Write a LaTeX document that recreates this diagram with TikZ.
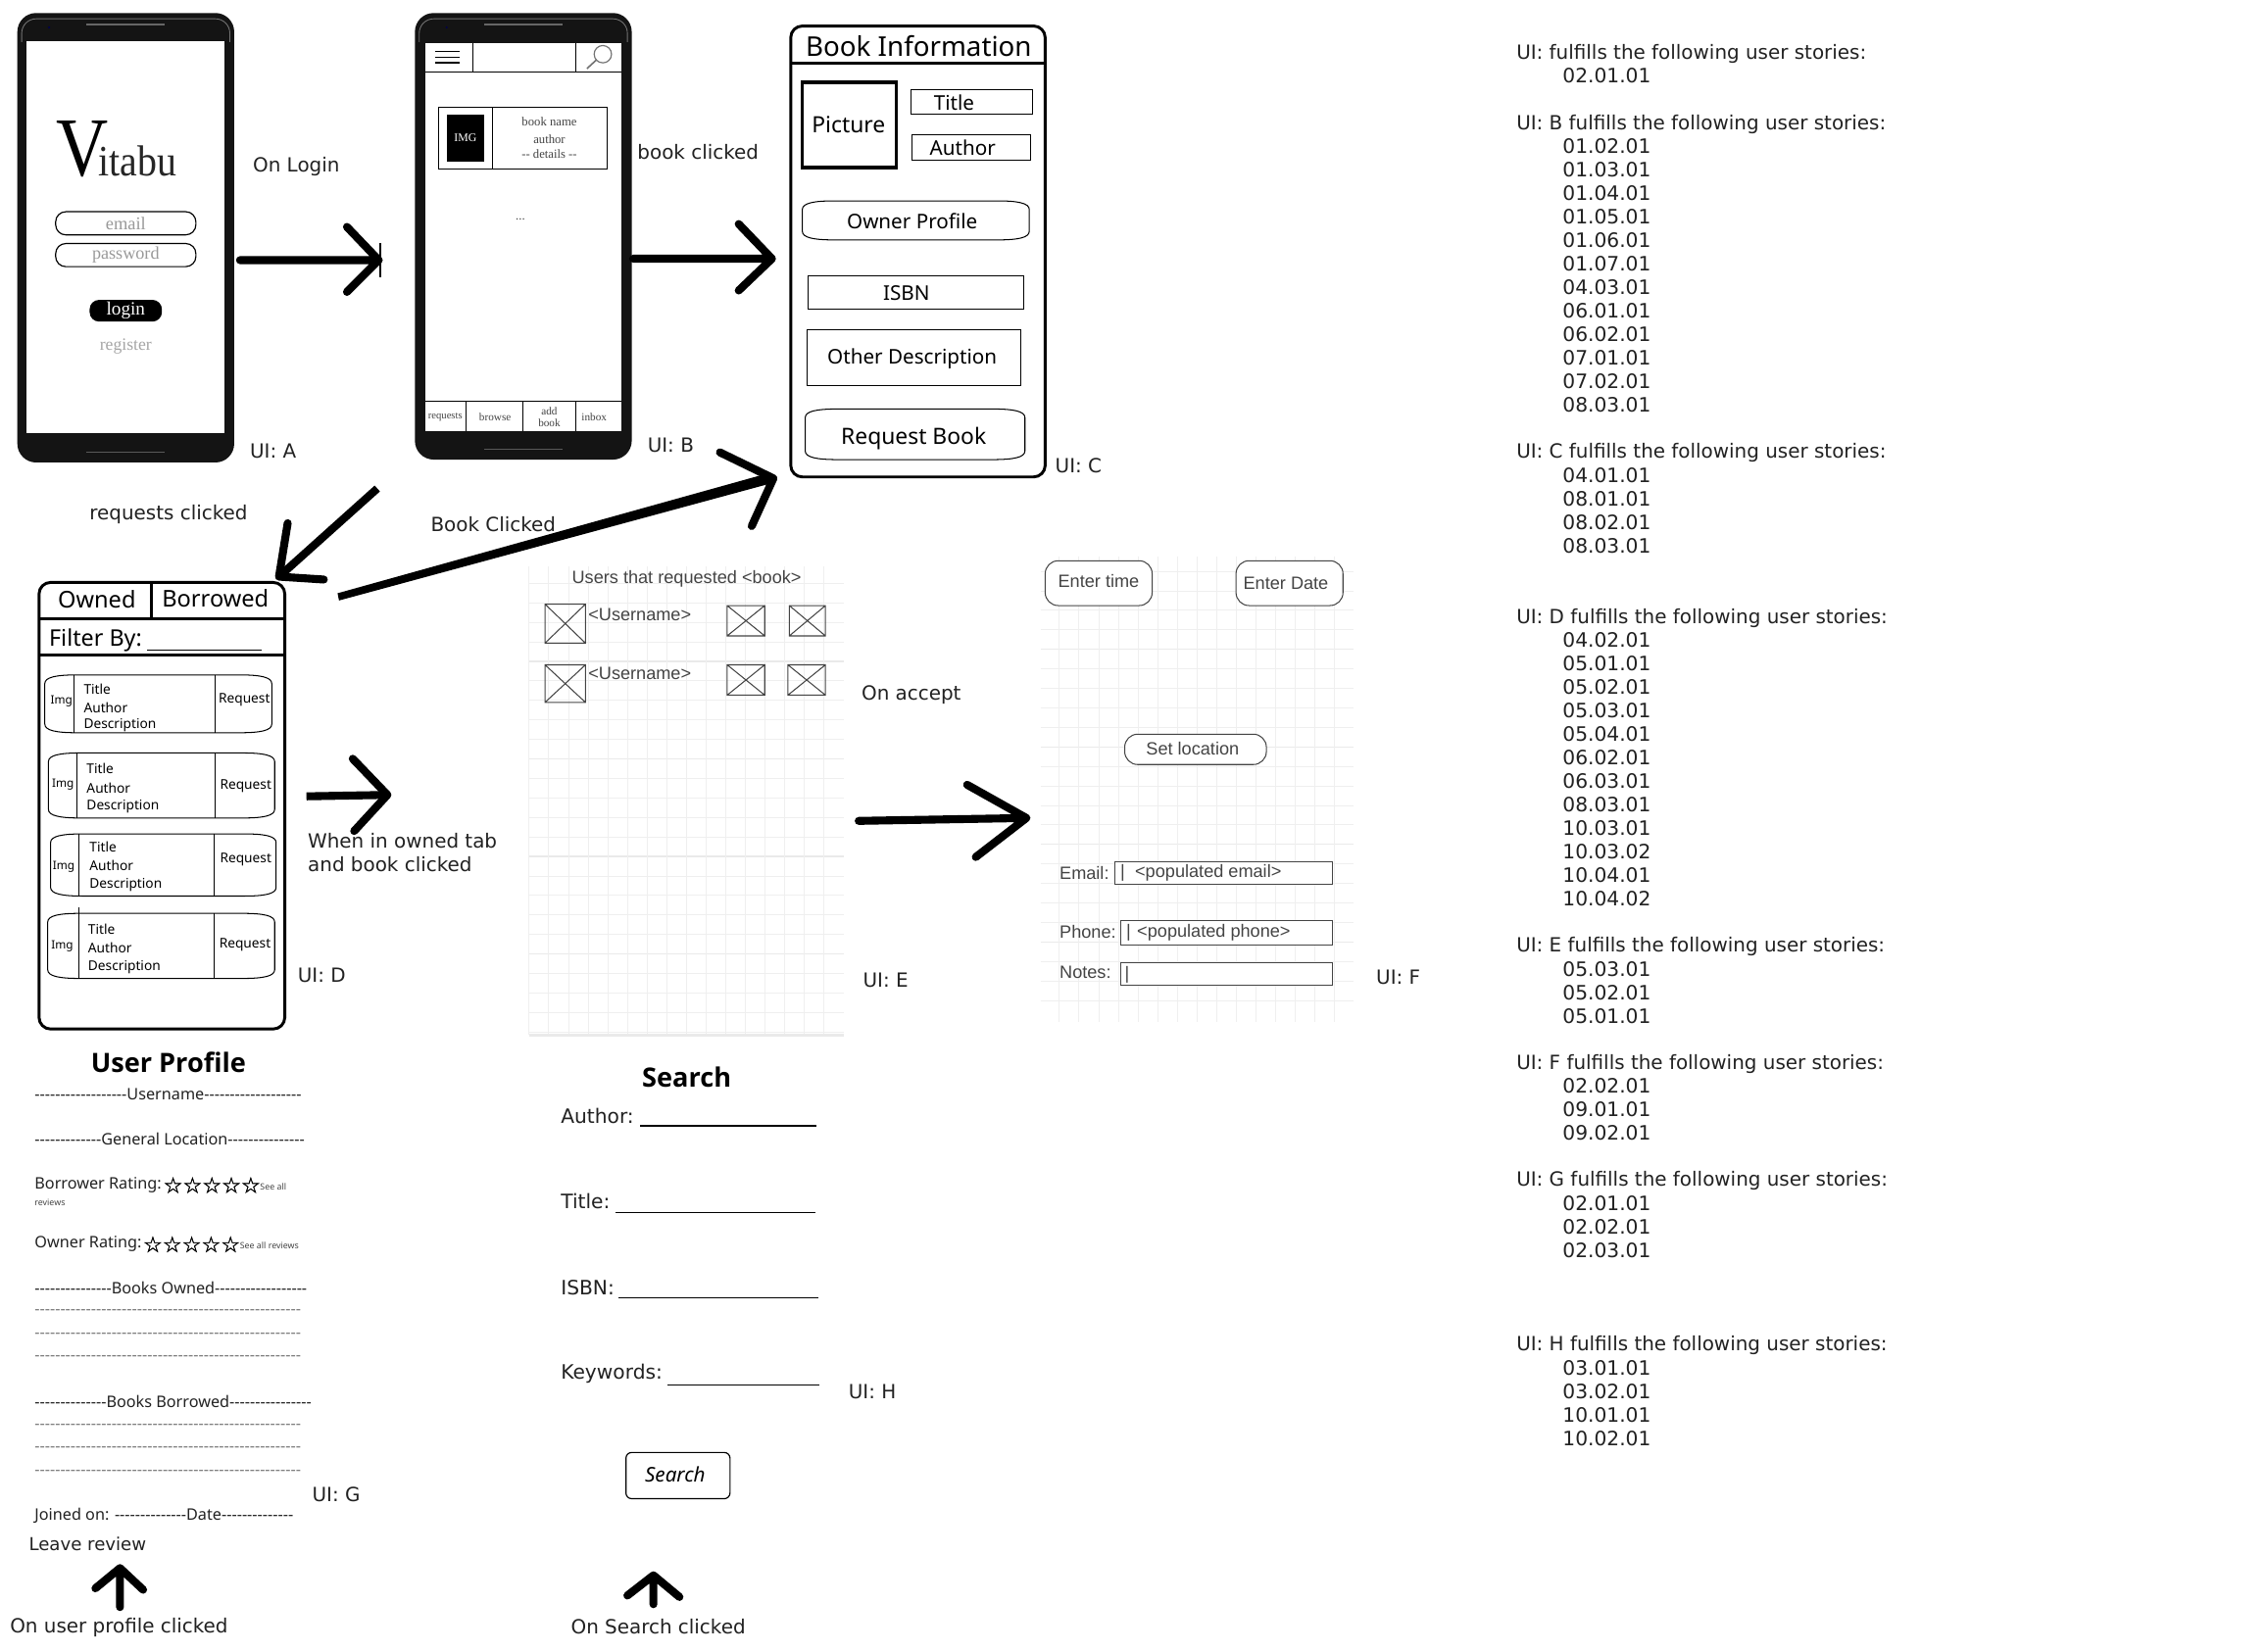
\documentclass[tikz,border=0pt]{standalone}
\usepackage{fontspec}
\newfontfamily\fdj{DejaVu Sans}
\newfontfamily\fns{Noto Sans}
\newfontfamily\fos{Open Sans}
\newfontfamily\flib{Liberation Sans}
\newfontfamily\fser{Liberation Serif}
\newfontfamily\fstar[FakeBold=1.2]{DejaVu Sans}
\newcommand\fz[1]{\fontsize{#1}{#1}\selectfont}
\definecolor{ink}{HTML}{222222}
\definecolor{gridc}{HTML}{EFEFEF}
\definecolor{gridd}{HTML}{EAEAEA}
\definecolor{fog}{HTML}{444444}
\tikzset{
 every node/.style={inner sep=0pt,outer sep=0pt},
 lab/.style={anchor=west,text=ink,font=\fdj\fz{13.5}},
 ui/.style={anchor=west,text=ink,font=\fdj\fz{13.5}},
 rhead/.style={anchor=west,text=ink,font=\fdj\fz{13.5}},
 ritem/.style={anchor=west,text=ink,font=\fdj\fz{13.7}},
 tah/.style={text=black,font=\fns\fz{9.3}},
 tahl/.style={tah,anchor=west},
 fat/.style={line width=5.5pt,black,line cap=round,line join=round},
 fatb/.style={line width=5.5pt,black,line cap=butt},
 outerbox/.style={draw=black,line width=2pt,rounded corners=8pt},
 thinbox/.style={draw=black,line width=.7pt},
 prof/.style={anchor=west,text=ink,font=\fns\fz{11}},
 dashline/.style={anchor=west,text=fog!70,font=\fns\fz{11}},
 srch/.style={anchor=west,text=ink,font=\fdj\fz{13.7}},
 wire/.style={anchor=center,text=fog,font=\flib\fz{12.3}},
 wirel/.style={anchor=west,text=fog,font=\flib\fz{12.3}},
 serif/.style={anchor=center,font=\fser\fz{8.6},text=fog},
 wbox/.style={draw=fog,line width=.7pt,fill=white},
 stars/.style={anchor=west,font=\fstar\fz{15},text=black},
 under/.style={draw=black,line width=.7pt},
}
\newcommand\barrel[5][]{\draw[black,line width=.7pt,#1]
 ({#2+22},#3) -- ({#4-22},#3) .. controls ({#4-8},#3) and (#4,{#3+1.5}) .. (#4,{#3+6})
 -- (#4,{#5-6}) .. controls (#4,{#5-1.5}) and ({#4-8},#5) .. ({#4-22},#5)
 -- ({#2+22},#5) .. controls ({#2+8},#5) and (#2,{#5-1.5}) .. (#2,{#5-6})
 -- (#2,{#3+6}) .. controls (#2,{#3+1.5}) and ({#2+8},#3) .. ({#2+22},#3) -- cycle;}
\newcommand\crossbox[4]{\draw[draw=fog,line width=.7pt] (#1,#2) rectangle (#3,#4) (#1,#2) -- (#3,#4) (#1,#4) -- (#3,#2);}
\newcommand\phone[4]{% x1 y1 x2 y2
 \fill[black!92,rounded corners=13pt] (#1,#2) rectangle (#3,#4);
 \draw[black!55,line width=.6pt,rounded corners=10pt] ({#1+3},{#2+20}) -- ({#1+3},{#2+4}) -- ({#3-3},{#2+4}) -- ({#3-3},{#2+20});
 \fill[black!60] ({(#1+#3)/2-27},{#2+7}) rectangle ({(#1+#3)/2+27},{#2+8.6});
 \fill[black!70!blue] ({#1+22},{#2+10}) circle (.8);
 \draw[black!65,line width=.5pt] ({(#1+#3)/2-27},{#4-7}) -- ({(#1+#3)/2+27},{#4-7});
}
\begin{document}
\begin{tikzpicture}[x=1pt,y=-1pt]
\useasboundingbox (0,0) rectangle (1567.5,1143);
\fill[white] (0,0) rectangle (1567.5,1143);

%%% Phone A
\phone{12}{9}{162}{320}
\fill[white] (18,28.5) rectangle (155,300);
\node[anchor=base west,font=\fser,text=black] (vitabu) at (39,122) {{\fz{58}\scalebox{.86}[1]{V}}\kern-7pt{\fz{30}\color{black!85}\scalebox{.9}[1]{itabu}}};
\node[draw=black,line width=.8pt,rounded corners=7pt,minimum width=97pt,minimum height=16pt,font=\fser\fz{12.5},text=black!40] (email) at (87,154.5) {email};
\node[draw=black,line width=.8pt,rounded corners=7pt,minimum width=97pt,minimum height=16pt,font=\fser\fz{12.3},text=black!40] (password) at (87,176.5) {password};
\node[fill=black,rounded corners=6.5pt,minimum width=50pt,minimum height=15pt,font=\fser\fz{13},text=white] (login) at (87,215) {login};
\node[font=\fser\fz{12},text=black!35] (register) at (87,239.5) {register};

%%% Phone B
\phone{287}{9}{437}{318}
\fill[white] (294,29.5) rectangle (430,298);
\draw[black,line width=.8pt] (294,50) -- (430,50) (294,277.5) -- (430,277.5);
\draw[black,line width=.7pt] (327,30) -- (327,50) (398,30) -- (398,50);
\draw[black,line width=.9pt] (301,35.5) -- (318,35.5) (301,39.5) -- (318,39.5) (301,43.5) -- (318,43.5);
\draw[black!55,line width=.8pt] (417,37.5) circle (6);
\draw[black!55,line width=1.1pt] (412.5,41.5) -- (406,47.5);
\draw[black,line width=.8pt] (303.5,74.5) rectangle (420,117) (340.5,74.5) -- (340.5,117);
\node[fill=black,minimum width=26pt,minimum height=33pt,font=\fser\fz{8},text=white] (img) at (322,95.5) {IMG};
\node[serif] (bname) at (380,84) {book name};
\node[serif] (bauthor) at (380,96.5) {author};
\node[serif] (bdet) at (380,106.5) {-- details --};
\node[serif] (bdots) at (360,152) {...};
\draw[black,line width=.7pt] (322.5,277.5) -- (322.5,298) (362,277.5) -- (362,298) (398.5,277.5) -- (398.5,298);
\node[serif,font=\fser\fz{7.2}] (tReq) at (308,288.5) {requests};
\node[serif,font=\fser\fz{7.6}] (tBrowse) at (342.5,288.5) {browse};
\node[serif,font=\fser\fz{7.6},align=center] (tAdd) at (380,288.5) {add\\[1pt]book};
\node[serif,font=\fser\fz{7.6}] (tInbox) at (411,288.5) {inbox};

%%% Labels top
\node[lab] (lLogin) at (175,115) {On Login};
\node[lab] (lBook) at (441,105) {book clicked};
\node[ui] (uiA) at (173,312) {UI: A};
\node[ui] (uiB) at (448,308) {UI: B};
\node[lab] (lReq) at (62,356) {requests clicked};
\node[lab] (lBC) at (298,363) {Book Clicked};

%%% Book information
\draw[outerbox] (547,18) rectangle (723,330);
\draw[black,line width=2pt] (547,44) -- (723,44);
\node[font=\fns\fz{18.8}] (cTitle) at (635.5,32) {Book Information};
\draw[black,line width=2.4pt] (555,57) rectangle (620,116);
\node[font=\fns\fz{15.5}] (cPic) at (587,86) {Picture};
\node[thinbox,minimum width=84pt,minimum height=17pt] (cT) at (672,70.5) {};
\node[font=\fns\fz{14}] (cTt) at (660,71) {Title};
\node[thinbox,minimum width=82pt,minimum height=18pt] (cA) at (672,102) {};
\node[font=\fns\fz{14}] (cAt) at (666,102) {Author};
\barrel{555}{139}{712}{166}
\node[font=\fns\fz{14}] (cOwner) at (631,153) {Owner Profile};
\node[thinbox,minimum width=149pt,minimum height=23pt] (cI) at (633.5,202.5) {};
\node[font=\fns\fz{14}] (cIt) at (627,203) {ISBN};
\node[thinbox,minimum width=148pt,minimum height=39pt] (cD) at (632,247.5) {};
\node[font=\fns\fz{14}] (cDt) at (631,248.5) {Other Description};
\barrel{557}{283}{709}{318}
\node[font=\fns\fz{15.5}] (cR) at (632,303.5) {Request Book};
\node[ui] (uiC) at (730,322) {UI: C};

%%% UI D
\draw[outerbox] (27,403) rectangle (197,712);
\draw[black,line width=2pt] (27,428) -- (197,428) (27,453) -- (197,453) (105,403) -- (105,428);
\node[font=\fns\fz{16}] (dOwned) at (67,415) {Owned};
\node[font=\fns\fz{16}] (dBorrowed) at (149,414) {Borrowed};
\node[anchor=west,font=\fns\fz{15.8}] (dFilter) at (34,443) {Filter By:};
\draw[under] (102,450) -- (181,450);
\barrel{31}{467}{188}{507}
\draw[black,line width=.7pt] (51.5,467) -- (51.5,507) (149,467) -- (149,507);
\node[tahl] (d1t) at (58,477) {Title};
\node[tahl] (d1a) at (58,489.5) {Author};
\node[tahl] (d1d) at (58,502) {Description};
\node[tah,font=\fns\fz{8}] (d1i) at (42.5,485) {Img};
\node[tah] (d1r) at (169,484) {Request};
\barrel{33.5}{521}{190}{566}
\draw[black,line width=.7pt] (53,521) -- (53,566) (149,521) -- (149,566);
\node[tahl] (d2t) at (60,532) {Title};
\node[tahl] (d2a) at (60,545) {Author};
\node[tahl] (d2d) at (60,558) {Description};
\node[tah,font=\fns\fz{8}] (d2i) at (43.5,543) {Img};
\node[tah] (d2r) at (170,544) {Request};
\barrel{35}{577}{191}{620}
\draw[black,line width=.7pt] (54.5,577) -- (54.5,620) (148,577) -- (148,620);
\node[tahl] (d3t) at (62,586) {Title};
\node[tahl] (d3a) at (62,599) {Author};
\node[tahl] (d3d) at (62,612) {Description};
\node[tah,font=\fns\fz{8}] (d3i) at (44,600) {Img};
\node[tah] (d3r) at (170,595) {Request};
\barrel{33}{632}{190}{677}
\draw[black,line width=.7pt] (54.5,628) -- (54.5,677) (148,632) -- (148,677);
\node[tahl] (d4t) at (61,643) {Title};
\node[tahl] (d4a) at (61,656) {Author};
\node[tahl] (d4d) at (61,669) {Description};
\node[tah,font=\fns\fz{8}] (d4i) at (43,655) {Img};
\node[tah] (d4r) at (169.5,654) {Request};
\node[lab,align=left] (lOwned) at (213,590) {When in owned tab\\[2.5pt]and book clicked};
\node[ui] (uiD) at (206,675) {UI: D};

%%% UI E grid
\foreach \i in {0,...,23}{
  \pgfmathtruncatemacro\m{mod(\i,5)}
  \ifnum\m=4 \draw[gridd,line width=.8pt] (366,{402.6+13.5*\i+1}) -- (584,{402.6+13.5*\i+1});
  \else \draw[gridc,line width=.6pt] (366,{402.6+13.5*\i+1}) -- (584,{402.6+13.5*\i+1});\fi}
\foreach \i in {0,...,15}{
  \draw[gridc,line width=.6pt] ({366+13.6*\i},392) -- ({366+13.6*\i},716);}
\draw[gridd,line width=2pt] (366,716.5) -- (584,716.5);
\node[wire] (eTitle) at (475,400.5) {Users that requested <book>};
\crossbox{377}{418}{405}{445}
\crossbox{503}{419}{529}{440}
\crossbox{546}{419}{571}{440}
\crossbox{377}{460}{405}{486}
\crossbox{503}{460}{529}{481}
\crossbox{545}{460}{571}{481}
\node[wirel] (eU1) at (407,425.5) {<Username>};
\node[wirel] (eU2) at (407,466) {<Username>};
\node[lab] (lAccept) at (596,481) {On accept};
\node[ui] (uiE) at (597,678) {UI: E};

%%% UI F grid
\foreach \i in {0,...,22}{
  \pgfmathtruncatemacro\m{mod(\i,5)}
  \ifnum\m=4 \draw[gridd,line width=.8pt] (720,{394.3+13.5*\i+1}) -- (936,{394.3+13.5*\i+1});
  \else \draw[gridc,line width=.6pt] (720,{394.3+13.5*\i+1}) -- (936,{394.3+13.5*\i+1});\fi}
\foreach \i in {0,...,14}{
  \draw[gridc,line width=.6pt] ({732.8+13.6*\i},385) -- ({732.8+13.6*\i},707);}
\node[draw=fog,line width=.7pt,fill=white,rounded corners=9pt,minimum width=74pt,minimum height=31pt] (fT) at (760,403.5) {};
\node[wire] (fTt) at (760,402) {Enter time};
\node[draw=fog,line width=.7pt,fill=white,rounded corners=9pt,minimum width=74pt,minimum height=31pt] (fD) at (892,403.5) {};
\node[wire] (fDt) at (889.5,403.5) {Enter Date};
\node[draw=fog,line width=.7pt,fill=white,rounded corners=9pt,minimum width=98pt,minimum height=21pt] (fL) at (827,518.5) {};
\node[wire] (fLt) at (825,518) {Set location};
\node[wirel] (fEm) at (733,604) {Email:};
\node[wbox,minimum width=151pt,minimum height=16pt] (fEb) at (846.5,604) {};
\node[wirel] (fEv) at (775,604) {|\hspace{7pt}<populated email>};
\node[wirel] (fPh) at (733,645) {Phone:};
\node[wbox,minimum width=147pt,minimum height=17pt] (fPb) at (848.5,645.5) {};
\node[wirel] (fPv) at (779,645) {|\hspace{1pt} <populated phone>};
\node[wirel] (fNo) at (733,673) {Notes:};
\node[wbox,minimum width=147pt,minimum height=16pt] (fNb) at (848.5,674) {};
\node[wirel] (fNv) at (778,674.5) {|};
\node[ui] (uiF) at (952,676) {UI: F};

%%% UI G
\node[font=\fos\bfseries\fz{18.4}] (gTitle) at (116.5,735) {User Profile};
\node[prof] (g1) at (24,757) {------------------Username-------------------};
\node[prof] (g2) at (24,788) {-------------General Location---------------};
\node[prof] (g3) at (24,820) {Borrower Rating:};
\node[stars] (g3s) at (113,820) {☆☆☆☆☆};
\node[anchor=west,font=\fns\fz{6},text=fog] (g3a) at (180,821) {See all};
\node[anchor=west,font=\fns\fz{6},text=fog] (g3b) at (24,832) {reviews};
\node[prof] (g4) at (24,861) {Owner Rating:};
\node[stars] (g4s) at (99,861) {☆☆☆☆☆};
\node[anchor=west,font=\fns\fz{6},text=fog] (g4a) at (166,862) {See all reviews};
\node[prof] (g5) at (24,891) {---------------Books Owned------------------};
\node[dashline] (g5a) at (24,908) {----------------------------------------------------};
\node[dashline] (g5b) at (24,924) {----------------------------------------------------};
\node[dashline] (g5c) at (24,940) {----------------------------------------------------};
\node[prof] (g6) at (24,970) {--------------Books Borrowed----------------};
\node[dashline] (g6a) at (24,987) {----------------------------------------------------};
\node[dashline] (g6b) at (24,1003) {----------------------------------------------------};
\node[dashline] (g6c) at (24,1019) {----------------------------------------------------};
\node[prof] (g7) at (24,1049) {Joined on: --------------Date--------------};
\node[ui] (uiG) at (216,1034) {UI: G};
\node[lab,font=\fdj\fz{12.3}] (lLeave) at (20,1068) {Leave review};
\node[lab] (lProfile) at (7,1126) {On user profile clicked};

%%% UI H
\node[font=\fos\bfseries\fz{18.4}] (hTitle) at (475,745) {Search};
\node[srch] (hA) at (388,772) {Author:};
\draw[under] (443,779) -- (565,779);
\node[srch] (hT) at (388,831) {Title:};
\draw[under] (426,839) -- (564,839);
\node[srch] (hI) at (388,891) {ISBN:};
\draw[under] (428,898) -- (566,898);
\node[srch] (hK) at (388,950.5) {Keywords:};
\draw[under] (462,958) -- (567,958);
\node[draw=black,line width=.8pt,rounded corners=4pt,minimum width=72pt,minimum height=32pt] (hB) at (469,1021) {};
\node[font=\fns\itshape\fz{14}] (hBt) at (467,1020) {Search};
\node[ui] (uiH) at (587,963) {UI: H};
\node[lab] (lSearch) at (395,1125.5) {On Search clicked};

%%% Arrows
\coordinate (a1s) at (166,180); \coordinate (a1e) at (262,180);
\coordinate (a1u) at (240,157); \coordinate (a1d) at (240,202);
\draw[fat] (a1s) -- (a1e) (a1u) -- (a1e) -- (a1d);
\draw[black,line width=.8pt] (263,168) -- (263,192);
\coordinate (a2s) at (438,179); \coordinate (a2e) at (534,179);
\coordinate (a2u) at (511,155); \coordinate (a2d) at (511,201);
\draw[fat] (a2s) -- (a2e) (a2u) -- (a2e) -- (a2d);
\coordinate (a3s) at (261,338); \coordinate (a3e) at (193,399);
\coordinate (a3u) at (199,362); \coordinate (a3d) at (224,401);
\draw[fatb] (a3s) -- (a3e);
\draw[fat] (a3u) -- (a3e) -- (a3d);
\coordinate (a4s) at (234,413); \coordinate (a4e) at (535,331);
\coordinate (a4u) at (498,313); \coordinate (a4d) at (520,364);
\fill[black] (233.5,410.5) -- (533,327) -- (535,334) -- (234.5,415.5) -- cycle;
\draw[fat] (a4u) -- (a4e) -- (a4d);
\coordinate (a5s) at (212,551); \coordinate (a5e) at (268,550);
\coordinate (a5u) at (244,525); \coordinate (a5d) at (245,575);
\draw[fatb] (a5s) -- (a5e);
\draw[fat] (a5u) -- (a5e) -- (a5d);
\coordinate (a6s) at (594,568); \coordinate (a6e) at (710,566);
\coordinate (a6u) at (669,543); \coordinate (a6d) at (675,593);
\draw[fat] (a6s) -- (a6e) (a6u) -- (a6e) -- (a6d);
\coordinate (a7s) at (83,1112); \coordinate (a7e) at (83,1085);
\coordinate (a7l) at (66,1099); \coordinate (a7r) at (99,1100);
\draw[fat] (a7s) -- (a7e) (a7l) -- (a7e) -- (a7r);
\coordinate (a8s) at (452,1110); \coordinate (a8e) at (452,1090);
\coordinate (a8l) at (434,1104); \coordinate (a8r) at (470,1105);
\draw[fat] (a8s) -- (a8e) (a8l) -- (a8e) -- (a8r);

%%% Right column
\node[rhead] (rA) at (1049,37) {UI: fulfills the following user stories:};
\node[ritem] (rA1) at (1081,52) {02.01.01};
\node[rhead] (rB) at (1049,86) {UI: B fulfills the following user stories:};
\foreach \n/\s [count=\k from 0] in {b1/01.02.01,b2/01.03.01,b3/01.04.01,b4/01.05.01,b5/01.06.01,b6/01.07.01,b7/04.03.01,b8/06.01.01,b9/06.02.01,b10/07.01.01,b11/07.02.01,b12/08.03.01}
  \node[ritem] (r\n) at (1081,{101+16.27*\k}) {\s};
\node[rhead] (rC) at (1049,313) {UI: C fulfills the following user stories:};
\foreach \n/\s [count=\k from 0] in {c1/04.01.01,c2/08.01.01,c3/08.02.01,c4/08.03.01}
  \node[ritem] (r\n) at (1081,{329+16.27*\k}) {\s};
\node[rhead] (rD) at (1049,427.5) {UI: D fulfills the following user stories:};
\foreach \n/\s [count=\k from 0] in {d1/04.02.01,d2/05.01.01,d3/05.02.01,d4/05.03.01,d5/05.04.01,d6/06.02.01,d7/06.03.01,d8/08.03.01,d9/10.03.01,d10/10.03.02,d11/10.04.01,d12/10.04.02}
  \node[ritem] (r\n) at (1081,{443+16.27*\k}) {\s};
\node[rhead] (rE) at (1049,655) {UI: E fulfills the following user stories:};
\foreach \n/\s [count=\k from 0] in {e1/05.03.01,e2/05.02.01,e3/05.01.01}
  \node[ritem] (r\n) at (1081,{670.5+16.27*\k}) {\s};
\node[rhead] (rF) at (1049,736) {UI: F fulfills the following user stories:};
\foreach \n/\s [count=\k from 0] in {f1/02.02.01,f2/09.01.01,f3/09.02.01}
  \node[ritem] (r\n) at (1081,{751.5+16.27*\k}) {\s};
\node[rhead] (rG) at (1049,817) {UI: G fulfills the following user stories:};
\foreach \n/\s [count=\k from 0] in {g1/02.01.01,g2/02.02.01,g3/02.03.01}
  \node[ritem] (r\n) at (1081,{832.5+16.27*\k}) {\s};
\node[rhead] (rH) at (1049,931) {UI: H fulfills the following user stories:};
\foreach \n/\s [count=\k from 0] in {h1/03.01.01,h2/03.02.01,h3/10.01.01,h4/10.02.01}
  \node[ritem] (r\n) at (1081,{946.5+16.27*\k}) {\s};
\end{tikzpicture}
\end{document}
